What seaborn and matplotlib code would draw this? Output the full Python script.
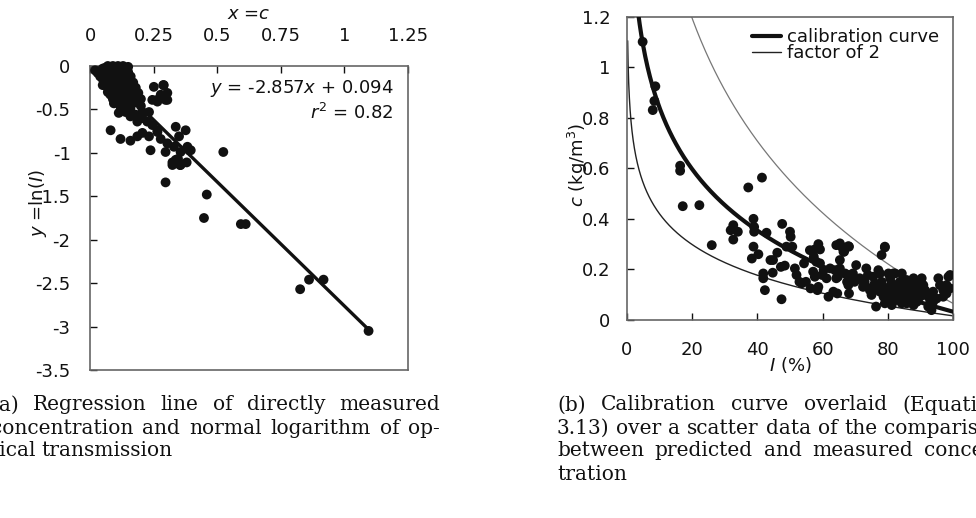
import numpy as np
import pandas as pd
import matplotlib
matplotlib.use("Agg")
import matplotlib.pyplot as plt
import matplotlib.ticker as mticker
import seaborn as sns

# ---------------- data ----------------
# (a) directly measured concentration c vs ln(I)
c_left = [0.02, 0.03, 0.04, 0.05, 0.06, 0.07, 0.08, 0.09, 0.10, 0.11, 0.12, 0.13, 0.14, 0.15,
          0.04, 0.05, 0.06, 0.07, 0.08, 0.09, 0.10, 0.11, 0.12, 0.13, 0.14, 0.15, 0.16,
          0.05, 0.06, 0.07, 0.08, 0.09, 0.10, 0.11, 0.12, 0.13, 0.14, 0.15, 0.16, 0.17, 0.18,
          0.07, 0.08, 0.10, 0.11, 0.12, 0.13, 0.14, 0.15, 0.16, 0.17, 0.18, 0.19,
          0.09, 0.11, 0.13, 0.14, 0.16, 0.18, 0.20, 0.20, 0.12,
          0.251, 0.288, 0.264, 0.297, 0.290, 0.278, 0.304, 0.265, 0.304, 0.245,
          0.094, 0.113, 0.127, 0.140, 0.159, 0.179, 0.206, 0.232,
          0.081, 0.120, 0.159, 0.186, 0.206, 0.232, 0.265, 0.278, 0.304, 0.337, 0.376, 0.350,
          0.383, 0.330, 0.396,
          0.337, 0.350, 0.324, 0.356, 0.159, 0.186, 0.206, 0.225, 0.245, 0.265,
          0.238, 0.297, 0.356, 0.390, 0.524, 0.324, 0.346, 0.354, 0.380, 0.297,
          0.459, 0.448, 0.593, 0.612, 0.826, 0.861, 0.918, 1.095]
lnI_left = [-0.05, -0.08, -0.06, -0.03, -0.02, 0.00, -0.01, 0.00, -0.02, 0.00, -0.01, 0.00, -0.02, -0.01,
            -0.12, -0.15, -0.10, -0.13, -0.08, -0.11, -0.07, -0.12, -0.09, -0.06, -0.10, -0.07, -0.12,
            -0.22, -0.20, -0.25, -0.18, -0.22, -0.16, -0.20, -0.24, -0.17, -0.21, -0.18, -0.22, -0.19, -0.25,
            -0.30, -0.33, -0.28, -0.34, -0.30, -0.27, -0.33, -0.29, -0.32, -0.28, -0.35, -0.31,
            -0.38, -0.40, -0.38, -0.44, -0.40, -0.42, -0.38, -0.46, -0.47,
            -0.24, -0.22, -0.39, -0.39, -0.22, -0.33, -0.31, -0.41, -0.39, -0.39,
            -0.43, -0.54, -0.47, -0.53, -0.49, -0.56, -0.53, -0.53,
            -0.74, -0.84, -0.86, -0.81, -0.77, -0.81, -0.76, -0.84, -0.89, -0.70, -0.74, -0.81,
            -0.93, -0.93, -0.97,
            -1.08, -1.12, -1.14, -1.14, -0.58, -0.64, -0.60, -0.64, -0.68, -0.74,
            -0.97, -0.99, -0.99, -0.97, -0.99, -1.11, -1.07, -1.14, -1.11, -1.34,
            -1.48, -1.75, -1.82, -1.82, -2.57, -2.46, -2.46, -3.05]

# regression coefficients (from the annotation)
slope = -2.857
intercept = 0.094
r2 = 0.82

# (b) transmission I (%) vs concentration c (kg/m3)
I_right = [4.8, 8.7, 8.4, 7.9,
           16.3, 16.3, 17.1, 22.2, 26.0, 37.2, 41.4,
           31.8, 32.6, 32.6, 34.0,
           38.8, 39.0, 39.0, 38.8, 38.3, 40.3,
           41.8, 41.8, 42.3, 42.8, 44.0, 44.8, 44.7, 46.1, 47.2, 47.6, 47.4, 48.4,
           50.0, 50.2, 48.9, 50.7, 51.5, 52.0, 52.9, 53.6, 54.3, 54.9, 56.1, 56.3,
           57.1, 57.6, 57.3, 57.6, 58.7, 58.7, 59.2, 58.1, 59.2, 58.4, 58.7,
           59.8, 60.3, 61.2, 61.8, 62.3, 63.3, 64.5, 63.8, 65.3,
           64.2, 65.3, 65.8, 64.2, 64.7, 65.3, 66.6, 68.1, 66.9, 67.9, 67.5, 67.9, 68.1,
           69.3, 70.3, 69.8, 71.4, 72.4, 72.9, 73.4, 73.9, 74.5, 75.0, 75.5, 76.0, 76.4,
           77.1, 77.6, 78.1, 79.1, 78.7, 79.1, 78.1, 78.7, 79.5, 80.2, 80.7, 81.7,
           80.7, 81.7, 82.7, 83.2, 83.7, 84.3, 83.7, 84.8, 85.8, 86.8,
           85.3, 86.3, 87.3, 88.4, 89.4, 89.9, 85.8, 87.9, 88.9, 87.9, 90.4, 90.9,
           91.4, 92.4, 92.9, 93.9, 95.0, 93.4, 92.4, 93.9, 95.5, 96.0, 97.0, 98.0, 98.6, 99.1, 98.0, 97.0,
           81.2, 82.2, 84.8, 85.8, 86.8, 87.9, 88.9, 89.9, 80.2, 81.2, 76.5, 77.6, 81.2, 84.3,
           67.9, 66.4, 79.1, 82.2, 99.1]
c_right = [1.100, 0.924, 0.866, 0.830,
           0.610, 0.590, 0.450, 0.454, 0.296, 0.524, 0.563,
           0.355, 0.375, 0.318, 0.349,
           0.400, 0.368, 0.349, 0.290, 0.243, 0.260,
           0.184, 0.165, 0.118, 0.345, 0.237, 0.237, 0.187, 0.266, 0.210, 0.380, 0.082, 0.215,
           0.349, 0.329, 0.290, 0.290, 0.204, 0.178, 0.151, 0.145, 0.224, 0.151, 0.276, 0.125,
           0.191, 0.171, 0.250, 0.279, 0.300, 0.283, 0.279, 0.230, 0.224, 0.118, 0.131,
           0.178, 0.197, 0.165, 0.092, 0.204, 0.112, 0.105, 0.197, 0.204,
           0.296, 0.303, 0.290, 0.165, 0.171, 0.237, 0.270, 0.290, 0.184, 0.178, 0.151, 0.138, 0.105,
           0.184, 0.217, 0.151, 0.165, 0.131, 0.151, 0.204, 0.178, 0.118, 0.099, 0.171, 0.145, 0.053,
           0.197, 0.184, 0.257, 0.290, 0.092, 0.066, 0.151, 0.131, 0.118, 0.184, 0.165, 0.184,
           0.092, 0.105, 0.079, 0.118, 0.092, 0.066, 0.151, 0.138, 0.158, 0.145,
           0.118, 0.092, 0.105, 0.079, 0.118, 0.092, 0.066, 0.059, 0.072, 0.165, 0.165, 0.138,
           0.118, 0.092, 0.066, 0.112, 0.085, 0.039, 0.053, 0.072, 0.165, 0.138, 0.118, 0.138, 0.171, 0.125, 0.105, 0.092,
           0.145, 0.131, 0.118, 0.105, 0.131, 0.118, 0.145, 0.131, 0.112, 0.125, 0.125, 0.112, 0.059, 0.184,
           0.292, 0.270, 0.287, 0.184, 0.178]

x_ticks_left = [0, 0.25, 0.5, 0.75, 1, 1.25]
y_ticks_left = [0, -0.5, -1, -1.5, -2, -2.5, -3, -3.5]
x_ticks_right = [0, 20, 40, 60, 80, 100]
y_ticks_right = [0, 0.2, 0.4, 0.6, 0.8, 1, 1.2]

caption_a = ["(a) Regression line of directly measured",
             "concentration and normal logarithm of op-",
             "tical transmission"]
caption_b = ["(b) Calibration curve overlaid (Equation",
             "3.13) over a scatter data of the comparison",
             "between predicted and measured concen-",
             "tration"]

# ---------------- style ----------------
sns.set_theme(style="white")
plt.rcParams['font.family'] = ['DejaVu Sans']
plt.rcParams['axes.unicode_minus'] = False
plt.rcParams['mathtext.fontset'] = 'dejavusans'

W, H = 976, 518
fig = plt.figure(figsize=(W / 100, H / 100), dpi=100)

def ax_rect(x0, y0, x1, y1):
    return [x0 / W, 1 - y1 / H, (x1 - x0) / W, (y1 - y0) / H]

axL = fig.add_axes(ax_rect(90, 66, 408, 370))
axR = fig.add_axes(ax_rect(627, 16.5, 953, 320))

FS = 13
spine_col = '#666666'
fmt = mticker.FuncFormatter(lambda v, p: '{:g}'.format(v))

# ---- left panel ----
dfL = pd.DataFrame({'c': c_left, 'lnI': lnI_left})
sns.scatterplot(data=dfL, x='c', y='lnI', ax=axL, color='#111111', s=50,
                edgecolor='none', linewidth=0, zorder=3, clip_on=False)
xr = np.array([0.03, max(c_left)])
dfReg = pd.DataFrame({'x': xr, 'y': slope * xr + intercept})
sns.lineplot(data=dfReg, x='x', y='y', ax=axL, color='#111111', lw=2.4, zorder=2)

axL.set_xlim(0, 1.25)
axL.set_ylim(-3.5, 0)
axL.set_xticks(x_ticks_left)
axL.set_yticks(y_ticks_left)
axL.xaxis.set_major_formatter(fmt)
axL.yaxis.set_major_formatter(fmt)
axL.xaxis.tick_top()
axL.xaxis.set_label_position('top')
axL.tick_params(axis='x', which='both', direction='in', length=5, width=1,
                top=True, bottom=False, labeltop=True, labelbottom=False,
                labelsize=FS, pad=15, colors='#111111')
axL.tick_params(axis='y', direction='in', length=5, width=1, left=True, right=False,
                labelsize=FS, pad=14, colors='#111111')
axL.set_xlabel(r'$x$ =$c$', fontsize=FS, color='#111111')
axL.xaxis.set_label_coords(0.5, 1.14)
axL.xaxis.label.set_va('bottom')
axL.set_ylabel(r'$y$ =ln($I$)', fontsize=FS, color='#111111')
axL.yaxis.set_label_coords(-0.165, 0.55)
axL.yaxis.label.set_va('center')
for sp in axL.spines.values():
    sp.set_visible(True)
    sp.set_color(spine_col)
    sp.set_linewidth(1.2)
axL.text(0.955, 0.925, r'$y$ = -2.857$x$ + 0.094', transform=axL.transAxes,
         ha='right', va='center', fontsize=FS, color='#111111')
axL.text(0.955, 0.845, r'$r^2$ = 0.82', transform=axL.transAxes,
         ha='right', va='center', fontsize=FS, color='#111111')

# ---- right panel ----
dfR = pd.DataFrame({'I': I_right, 'c': c_right})
sns.scatterplot(data=dfR, x='I', y='c', ax=axR, color='#111111', s=50,
                edgecolor='none', linewidth=0, zorder=3)

def calib(I):
    return (intercept - np.log(I / 100.0)) / (-slope)

I_cal = np.linspace(3.4, 100, 400)
I_up = np.linspace(19.0, 100, 400)
I_lo = np.geomspace(0.2, 100, 500)
sns.lineplot(x=I_cal, y=calib(I_cal), ax=axR, color='#111111', lw=3.0,
             label='calibration curve', zorder=4)
sns.lineplot(x=I_lo, y=0.5 * calib(I_lo), ax=axR, color='#222222', lw=1.0,
             label='factor of 2', zorder=2)
sns.lineplot(x=I_up, y=2.0 * calib(I_up), ax=axR, color='#777777', lw=0.9, zorder=2)

axR.set_xlim(0, 100)
axR.set_ylim(0, 1.2)
axR.set_xticks(x_ticks_right)
axR.set_yticks(y_ticks_right)
axR.xaxis.set_major_formatter(fmt)
axR.yaxis.set_major_formatter(fmt)
axR.tick_params(axis='x', direction='in', length=5, width=1, bottom=True,
                labelsize=FS, pad=15, colors='#111111')
axR.tick_params(axis='y', direction='in', length=5, width=1, left=True,
                labelsize=FS, pad=12, colors='#111111')
axR.set_xlabel(r'$I$ (%)', fontsize=FS, color='#111111')
axR.xaxis.set_label_coords(0.5, -0.115)
axR.xaxis.label.set_va('top')
axR.set_ylabel(r'$c$ (kg/m$^3$)', fontsize=FS, color='#111111')
axR.yaxis.set_label_coords(-0.15, 0.51)
axR.yaxis.label.set_va('center')
for sp in axR.spines.values():
    sp.set_visible(True)
    sp.set_color(spine_col)
    sp.set_linewidth(1.2)
leg = axR.legend(loc='upper right', bbox_to_anchor=(0.99, 0.997), frameon=False,
                 fontsize=FS, handlelength=1.6, handletextpad=0.3,
                 labelspacing=-0.1, borderaxespad=0.2)
for t in leg.get_texts():
    t.set_color('#111111')

# ---------------- captions (justified) ----------------
cap_font = dict(family='DejaVu Serif', fontsize=14.5, color='#111111')
fig.canvas.draw()
renderer = fig.canvas.get_renderer()

def put_line(line, x0, y, width, justify):
    words = line.split(' ')
    items = [fig.text(0, 0, w, ha='left', va='center', **cap_font) for w in words]
    widths = [t.get_window_extent(renderer).width for t in items]
    sp = fig.text(0, 0, 'a a', **cap_font)
    sp2 = fig.text(0, 0, 'aa', **cap_font)
    nat_gap = sp.get_window_extent(renderer).width - sp2.get_window_extent(renderer).width
    sp.remove(); sp2.remove()
    if justify and len(words) > 1:
        gap = max((width - sum(widths)) / (len(words) - 1), nat_gap * 0.6)
    else:
        gap = nat_gap
    x = x0
    for t, w in zip(items, widths):
        t.set_position((x / W, 1 - y / H))
        x += w + gap

line_ys = [405, 428, 451, 474]
for i, line in enumerate(caption_a):
    put_line(line, -9, line_ys[i], 449, i < len(caption_a) - 1)
for i, line in enumerate(caption_b):
    put_line(line, 557, line_ys[i], 446, i < len(caption_b) - 1)

fig.savefig('out.png', dpi=100)
